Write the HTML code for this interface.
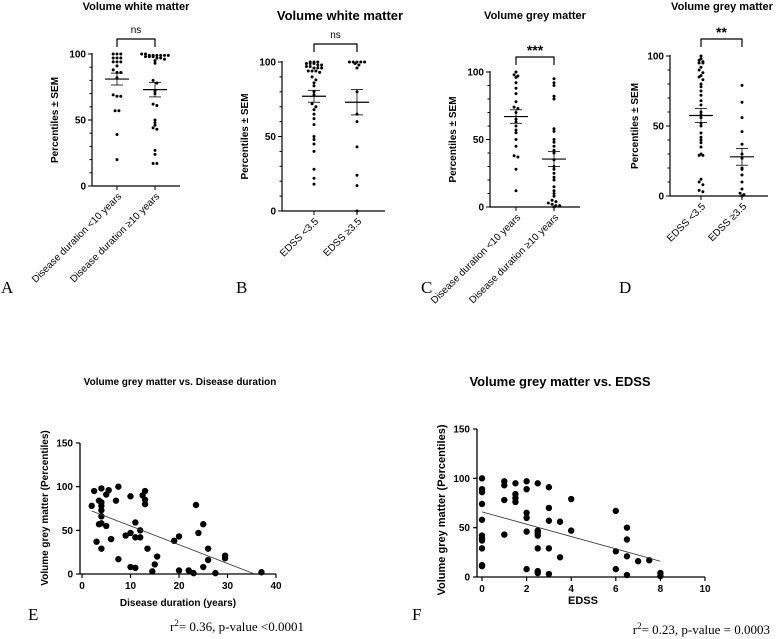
<!DOCTYPE html>
<html><head><meta charset="utf-8">
<style>
html,body{margin:0;padding:0;background:#fff;}
svg{display:block;font-family:"Liberation Sans",Arial,sans-serif;}
.t{font-weight:bold;}
.l{font-family:"Liberation Serif",serif;}
</style></head>
<body>
<svg id="fig" width="784" height="639" viewBox="0 0 784 639"></svg>
<script>
// ---- Panel A: white matter vs disease duration ----
const aCats = ["Disease duration <10 years", "Disease duration \u226510 years"];
const aG1 = [100,100,100,97,97,97,94,94,94,91,88,86,86,82,69,68,68,57,57,39,20];
const aG2 = [100,100,99,99,99,99,99,99,98,98,98,97,97,96,95,93,80,78,72,70,62,61,50,48,46,44,43,27,24,17,17];
const aMean = [81, 73];
const aSem = [4.5, 5.5];
// ---- Panel B: white matter vs EDSS ----
const bCats = ["EDSS <3.5", "EDSS \u22653.5"];
const bG1 = [100,100,100,99,99,99,98,98,97,97,96,96,96,94,94,94,93,90,88,86,84,80,78,72,70,68,65,62,58,50,48,45,40,28,22,18];
const bG2 = [100,100,100,100,100,99,98,96,80,65,60,43,24,17,0];
const bMean = [77, 73];
const bSem = [4, 8.5];
// ---- Panel C: grey matter vs disease duration ----
const cCats = ["Disease duration <10 years", "Disease duration \u226510 years"];
const cG1 = [100,98,97,96,92,88,84,78,74,73,70,65,63,60,57,55,50,45,38,37,28,12];
const cG2 = [95,92,90,82,80,58,56,50,48,45,42,40,35,30,28,25,22,20,15,12,10,8,5,4,3,2,1,1,0];
const cMean = [67, 35.5];
const cSem = [5, 5.5];
// ---- Panel D: grey matter vs EDSS ----
const dCats = ["EDSS <3.5", "EDSS \u22653.5"];
const dG1 = [100,98,97,96,95,95,92,90,88,86,85,83,80,78,75,72,68,65,60,58,56,52,50,45,42,40,38,35,30,29,29,12,10,8,4,3];
const dG2 = [79,67,56,46,37,30,27,20,19,15,10,5,2,1,0];
const dMean = [57.5, 28];
const dSem = [5, 6];
// ---- Panel E: scatter GM vs disease duration ----
const eX = [2,2.5,3,3.5,3.5,4,4,4,4,4,4,4,5,5,5.5,6,7,7.5,7.5,9,10,10,10,11,11,11,12,12,12.5,13,13,13,13.5,14.5,15,15.5,19,20,20,22,23,23.5,24,25,25,26,26,27.5,29.5,29.5,37];
const eY = [78,95,37,57,84,98,82,78,73,66,58,29,91,55,96,40,84,100,17,44,89,47,8,59,42,7,50,42,90,95,85,80,29,3,11,20,38,43,4,4,1,79,47,57,8,29,16,1,21,18,2];
const eFit = [76.5, -2.15];
const eXTicks = [0,10,20,30,40];
const eYTicks = [0,50,100,150];
// ---- Panel F: scatter GM vs EDSS ----
const fX = [0,0,0,0,0,0,0,0,0,0,0, 1,1,1,1, 1.5,1.5,1.5,1.5, 2,2,2,2,2,2, 2.5,2.5,2.5,2.5,2.5,2.5,2.5, 3,3,3,3,3, 3.5,3.5, 4,4, 6,6,6, 6.5,6.5,6.5,6.5, 7, 7.5, 8,8];
const fY = [100,89,86,74,58,42,39,37,29,12,11, 97,93,78,43, 95,84,80,76, 97,89,65,60,46,8, 95,47,45,42,29,6,4, 91,70,57,29,3, 56,20, 79,47, 67,26,8, 50,38,21,2, 16, 17, 4,1];
const fFit = [66, -6.25];
const fXTicks = [0,2,4,6,8,10];
const fYTicks = [0,50,100,150];

const NS = "http://www.w3.org/2000/svg";
const svg = document.getElementById('fig');
function mk(tag, attrs, parent, text){
  const e = document.createElementNS(NS, tag);
  for (const k in attrs) e.setAttribute(k, attrs[k]);
  if (text !== undefined) e.textContent = text;
  (parent || svg).appendChild(e);
  return e;
}

function dotPlot(p){
  const g = mk('g', {});
  
  
  const ys = v => p.y0 - (v / 100) * (p.y0 - p.y100);
  const xs = i => p.cat0 + i * p.gap;
  const t = mk('text', {x: p.tx, y: p.ty, 'text-anchor': 'middle', 'font-size': p.tfs, class: 't'}, g, p.title);
  
  
  const ya = mk('line', {x1: p.ax, y1: p.y100 - 1, x2: p.ax, y2: p.y0, stroke: '#000', 'stroke-width': 1.2}, g);
  
  
  const xa = mk('line', {x1: p.ax, y1: p.y0, x2: p.axEnd, y2: p.y0, stroke: '#000', 'stroke-width': 1.2}, g);
  
  
  for (let v = 0; v <= 100; v += 10) {
    const major = v % 50 === 0;
    mk('line', {x1: p.ax - (major ? 4 : 2.5), y1: ys(v), x2: p.ax, y2: ys(v), stroke: '#000', 'stroke-width': 1}, g);
    if (major) {
      const tl = mk('text', {x: p.ax - 6, y: ys(v) + 3.5, 'text-anchor': 'end', 'font-size': 10, class: 't'}, g, String(v));
      
      
    }
  }
  const yl = mk('text', {x: 0, y: 0, 'text-anchor': 'middle', 'font-size': 10, class: 't', transform: `translate(${p.ylx},${(p.y0 + p.y100) / 2}) rotate(-90)`}, g, 'Percentiles \u00b1 SEM');
  
  
  [p.g1, p.g2].forEach((vals, i) => {
    const cx = xs(i);
    mk('line', {x1: cx, y1: p.y0, x2: cx, y2: p.y0 + 4, stroke: '#000', 'stroke-width': 1}, g);
    const cl = mk('text', {x: 0, y: 0, 'text-anchor': 'end', 'font-size': 10, transform: `translate(${cx + 5},${p.y0 + 11}) rotate(-45)`}, g, p.cats[i]);
    
    
    const bins = {};
    vals.forEach(v => { const k = Math.round(ys(v) / 3.4); (bins[k] = bins[k] || []).push(v); });
    Object.keys(bins).forEach(k => {
      const arr = bins[k];
      arr.forEach((v, j) => {
        const off = (j - (arr.length - 1) / 2) * 3.8;
        const d = mk('circle', {cx: cx + off, cy: ys(v), r: 1.5, fill: '#000'}, g);
        
        
      });
    });
    const m = p.mean[i], s = p.sem[i];
    const ml = mk('line', {x1: cx - 12, y1: ys(m), x2: cx + 12, y2: ys(m), stroke: '#000', 'stroke-width': 1.2}, g);
    
    
    mk('line', {x1: cx, y1: ys(m + s), x2: cx, y2: ys(m - s), stroke: '#000', 'stroke-width': 0.8}, g);
    mk('line', {x1: cx - 6, y1: ys(m + s), x2: cx + 6, y2: ys(m + s), stroke: '#000', 'stroke-width': 0.8}, g);
    mk('line', {x1: cx - 6, y1: ys(m - s), x2: cx + 6, y2: ys(m - s), stroke: '#000', 'stroke-width': 0.8}, g);
  });
  const x1 = xs(0), x2 = xs(1);
  const br = mk('path', {d: `M${x1},${p.by + 8}V${p.by}H${x2}V${p.by + 8}`, fill: 'none', stroke: '#000', 'stroke-width': 1.2}, g);
  
  
  const sg = mk('text', {x: (x1 + x2) / 2, y: p.by - (p.sig === 'ns' ? 6 : 2), 'text-anchor': 'middle', 'font-size': p.sig === 'ns' ? 10 : 14, class: p.sig === 'ns' ? '' : 't'}, g, p.sig);
  
  
  const lt = mk('text', {x: p.lx, y: 293, 'font-size': 17, class: 'l'}, g, p.letter);
  
  
}

dotPlot({name:'panel-a', title:'Volume white matter', tx:136, ty:10, tfs:11, ax:92, axEnd:180, y0:186, y100:54, cat0:117, gap:38, ylx:58, cats:aCats, g1:aG1, g2:aG2, mean:aMean, sem:aSem, by:39, sig:'ns', lx:1, letter:'A'});
dotPlot({name:'panel-b', title:'Volume white matter', tx:340, ty:20, tfs:13, ax:282, axEnd:385, y0:211, y100:62, cat0:314, gap:43, ylx:248, cats:bCats, g1:bG1, g2:bG2, mean:bMean, sem:bSem, by:44, sig:'ns', lx:236, letter:'B'});
dotPlot({name:'panel-c', title:'Volume grey matter', tx:535, ty:19, tfs:11, ax:490, axEnd:580, y0:207, y100:72, cat0:516, gap:38, ylx:456, cats:cCats, g1:cG1, g2:cG2, mean:cMean, sem:cSem, by:57, sig:'***', lx:421, letter:'C'});
dotPlot({name:'panel-d', title:'Volume grey matter', tx:722, ty:10, tfs:11, ax:670, axEnd:768, y0:196, y100:56, cat0:701, gap:41, ylx:638, cats:dCats, g1:dG1, g2:dG2, mean:dMean, sem:dSem, by:39, sig:'**', lx:619, letter:'D'});

function scatter(p){
  const g = mk('g', {});
  
  
  const xmax = p.xTicks[p.xTicks.length - 1], ymax = p.yTicks[p.yTicks.length - 1];
  const xs = v => p.x0 + (v / xmax) * (p.x1 - p.x0);
  const ys = v => p.y0 - (v / ymax) * (p.y0 - p.y1);
  const t = mk('text', {x: p.tx, y: p.ty, 'text-anchor': 'middle', 'font-size': p.tfs, class: 't'}, g, p.title);
  
  
  const ya = mk('line', {x1: p.ax, y1: p.y1, x2: p.ax, y2: p.y0, stroke: '#000', 'stroke-width': 1.3}, g);
  
  
  const xa = mk('line', {x1: p.ax, y1: p.y0, x2: p.x1, y2: p.y0, stroke: '#000', 'stroke-width': 1.3}, g);
  
  
  p.xTicks.forEach(v => {
    mk('line', {x1: xs(v), y1: p.y0, x2: xs(v), y2: p.y0 + 4, stroke: '#000', 'stroke-width': 1.2}, g);
    const tl = mk('text', {x: xs(v), y: p.y0 + 15, 'text-anchor': 'middle', 'font-size': 10, class: 't'}, g, String(v));
    
    
  });
  p.yTicks.forEach(v => {
    mk('line', {x1: p.ax - 4, y1: ys(v), x2: p.ax, y2: ys(v), stroke: '#000', 'stroke-width': 1.2}, g);
    const tl = mk('text', {x: p.ax - 7, y: ys(v) + 3.5, 'text-anchor': 'end', 'font-size': 10, class: 't'}, g, String(v));
    
    
  });
  p.xs.forEach((xv, i) => {
    const c = mk('circle', {cx: xs(xv), cy: ys(p.ys[i]), r: 3.2, fill: '#000'}, g);
    
    
  });
  const xa0 = p.fitFrom, xa1 = p.fitTo;
  const fl = mk('line', {x1: xs(xa0), y1: ys(p.fit[0] + p.fit[1] * xa0), x2: xs(xa1), y2: ys(Math.max(0, p.fit[0] + p.fit[1] * xa1)), stroke: '#333', 'stroke-width': 0.8}, g);
  
  
  const xl = mk('text', {x: p.xlx, y: p.xly, 'text-anchor': 'middle', 'font-size': p.xlfs, class: 't'}, g, p.xlabel);
  
  
  const yl = mk('text', {x: 0, y: 0, 'text-anchor': 'middle', 'font-size': p.ylfs, class: 't', transform: `translate(${p.ylx},${p.yly}) rotate(-90)`}, g, 'Volume grey matter (Percentiles)');
  
  
  const lt = mk('text', {x: p.lx, y: p.ly, 'font-size': 17, class: 'l'}, g, p.letter);
  
  
  const st = mk('text', {x: p.sx, y: p.sy, 'text-anchor': p.sa, 'font-size': 13, class: 'l'}, g);
  
  
  mk('tspan', {}, st, 'r');
  mk('tspan', {dy: -5, 'font-size': 9}, st, '2');
  mk('tspan', {dy: 5}, st, p.stat);
}

scatter({name:'panel-e', title:'Volume grey matter vs. Disease duration', tx:180, ty:385, tfs:10,
  ax:80, x0:82, x1:276, y0:574, y1:443, xTicks:eXTicks, yTicks:eYTicks, xs:eX, ys:eY, fit:eFit, fitFrom:2, fitTo:35.6,
  xlabel:'Disease duration (years)', xlx:178, xly:606, xlfs:10, ylx:48, yly:508, ylfs:10,
  letter:'E', lx:28, ly:620, sx:170, sy:631, sa:'start', stat:'= 0.36, p-value <0.0001'});
scatter({name:'panel-f', title:'Volume grey matter vs. EDSS', tx:560, ty:386, tfs:13,
  ax:477, x0:482, x1:705, y0:577, y1:429, xTicks:fXTicks, yTicks:fYTicks, xs:fX, ys:fY, fit:fFit, fitFrom:0, fitTo:8,
  xlabel:'EDSS', xlx:583, xly:604, xlfs:11, ylx:445, yly:510, ylfs:11,
  letter:'F', lx:412, ly:620, sx:770, sy:634, sa:'end', stat:'= 0.23, p-value = 0.0003'});
</script>
</body></html>
